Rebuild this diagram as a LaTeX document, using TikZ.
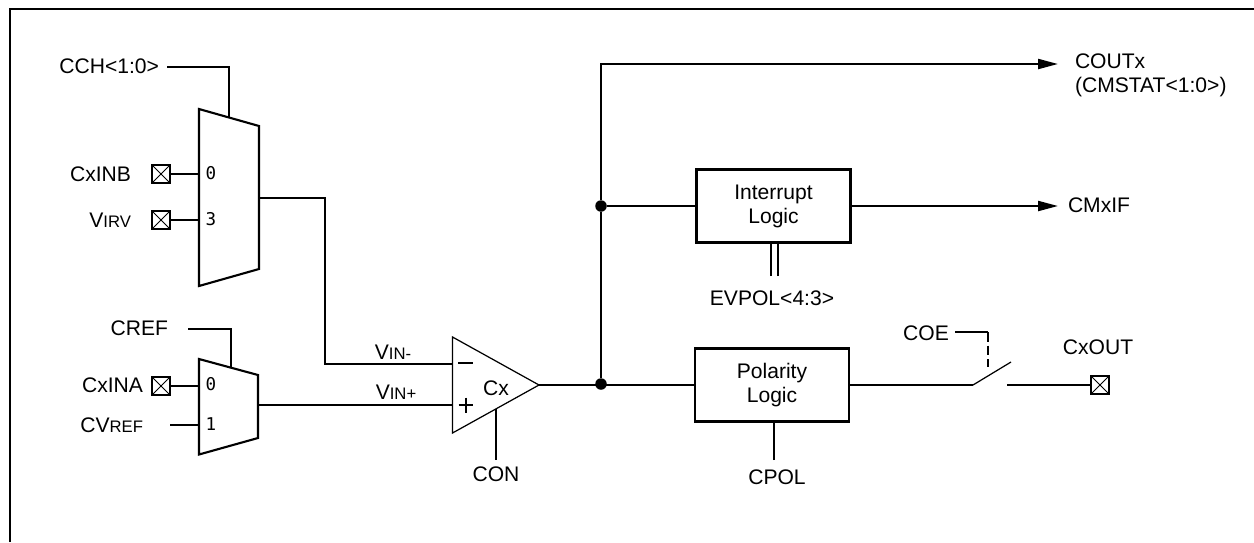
\documentclass[tikz,border=0pt]{standalone}
\usepackage{fontspec}
\setmainfont{Liberation Sans}
\setmonofont{DejaVu Sans Mono}
\usetikzlibrary{arrows.meta,positioning}

\newcommand{\smc}[1]{{\fontsize{9.5}{11}\selectfont #1}}

\begin{document}
\begin{tikzpicture}[x=0.02cm, y=-0.02cm,
  wire/.style={line width=1.2pt, black},
  thinw/.style={line width=0.7pt, black},
  arr/.style={wire, -{Triangle[length=4mm, width=2mm]}},
  lbl/.style={inner sep=0pt, outer sep=0pt, align=left,
    font=\fontsize{12}{13.6}\selectfont},
  port/.style={inner sep=0pt, outer sep=0pt, font=\ttfamily},
  logic/.style={draw, line width=1.2pt, inner sep=0pt, align=center,
    minimum width=3.08cm, minimum height=1.46cm,
    font=\fontsize{12}{13.6}\selectfont},
  pin/.style={draw, line width=1.2pt, inner sep=0pt, minimum size=0.36cm,
    path picture={\draw[line width=0.5pt]
      (path picture bounding box.south west) -- (path picture bounding box.north east)
      (path picture bounding box.north west) -- (path picture bounding box.south east);}},
  dot/.style={circle, fill=black, inner sep=0pt, minimum size=0.23cm}]
\useasboundingbox (0,0) rectangle (1254,542);
% Frame
\draw[wire] (10,542) -- (10,9) -- (1254,9);
% Upper mux
\draw[wire] (199,109) -- (259,126) -- (259,269) -- (199,286) -- cycle;
\coordinate (mxasel) at (229,118);
\coordinate (mxaout) at (259,198);
\coordinate (mxaa) at (199,174);
\coordinate (mxab) at (199,220);
\node[port] (mxazero) at (211,173) {0};
\node[port] (mxathree) at (211,219.5) {3};
\node[lbl, anchor=east] (cch) at (159,66) {CCH<1:0>};
\coordinate (cchend) at (167,67);
\draw[wire] (cchend) -| (mxasel);
\node[pin] (inb) at (161,174) {};
\node[lbl, anchor=east] (inblbl) at (131,174) {CxINB};
\draw[wire] (inb) -- (mxaa);
\node[pin] (irv) at (161,220) {};
\node[lbl, anchor=east] (irvlbl) at (131,220) {V\smc{IRV}};
\draw[wire] (irv) -- (mxab);
% Lower mux
\draw[wire] (199,359) -- (258,375) -- (258,438) -- (199,454.5) -- cycle;
\coordinate (mxbsel) at (231,368);
\coordinate (mxbout) at (258,405);
\coordinate (mxba) at (199,386);
\coordinate (mxbb) at (199,425);
\node[port] (mxbzero) at (211,384.5) {0};
\node[port] (mxbone) at (211,424) {1};
\node[lbl, anchor=east] (cref) at (168,328) {CREF};
\coordinate (crefend) at (188,329);
\draw[wire] (crefend) -| (mxbsel);
\node[pin] (ina) at (161,386) {};
\node[lbl, anchor=east] (inalbl) at (143,385) {CxINA};
\draw[wire] (ina) -- (mxba);
\node[lbl, anchor=east] (cvref) at (143,425) {CV\smc{REF}};
\coordinate (cvrefend) at (170,425);
\draw[wire] (cvrefend) -- (mxbb);
% Comparator
\draw[thinw] (452.5,337) -- (539,385) -- (452.5,433) -- cycle;
\coordinate (cmpm) at (452.5,364);
\coordinate (cmpp) at (452.5,405);
\coordinate (cmpo) at (539,385);
\coordinate (cmpc) at (496,409);
\coordinate (mxajog) at (325,280);
\draw[wire] (mxaout) -| (mxajog) |- (cmpm);
\draw[wire] (mxbout) -- (cmpp);
\node[lbl] (vinm) at (393,352) {V\smc{IN-}};
\node[lbl] (vinp) at (396,392) {V\smc{IN+}};
\draw[wire] (458,363) -- (473,363);
\draw[wire] (458.5,405) -- (473,405) (466,397.5) -- (466,412.5);
\node[lbl] (cx) at (496,388) {Cx};
\node[lbl] (con) at (496,474) {CON};
\coordinate (conend) at (496,460);
\draw[wire] (cmpc) -- (conend);
% Logic blocks
\node[logic] (intlog) at (773.5,206) {Interrupt\\Logic};
\node[logic] (pollog) at (772,385) {Polarity\\Logic};
\node[dot] (dota) at (601,206) {};
\node[dot] (dotb) at (601,384) {};
\draw[wire] (cmpo) -- (pollog.west |- cmpo);
\draw[wire] (dotb) -- (dota);
\draw[wire] (dota) -- (intlog.west |- dota);
% EVPOL and CPOL
\node[lbl] (evpol) at (772,298) {EVPOL<4:3>};
\coordinate (evpa) at (771,276);
\coordinate (evpb) at (778,276);
\draw[wire] (evpa) -- (evpa |- intlog.south);
\draw[wire] (evpb) -- (evpb |- intlog.south);
\node[lbl] (cpol) at (777,477) {CPOL};
\coordinate (cpolend) at (774,460);
\draw[wire] (cpolend) -- (cpolend |- pollog.south);
% Outputs
\node[lbl, anchor=north west] (coutx) at (1075,54) {COUTx\\(CMSTAT<1:0>)};
\coordinate (coutend) at (1058,64);
\draw[arr] (dota) |- (coutend);
\node[lbl, anchor=west] (cmxif) at (1068,205) {CMxIF};
\coordinate (cmxend) at (1058,206);
\draw[arr] (intlog.east |- cmxend) -- (cmxend);
% Switch
\coordinate (swa) at (973,385);
\coordinate (swb) at (1011,362);
\coordinate (swc) at (1007,385);
\draw[wire] (pollog.east) -- (swa);
\draw[thinw] (swa) -- (swb);
\node[pin] (cxout) at (1100,385) {};
\node[lbl] (cxoutlbl) at (1098,347) {CxOUT};
\draw[wire] (swc) -- (cxout);
\node[lbl] (coe) at (926,333) {COE};
\coordinate (coeend) at (955,332);
\coordinate (coebend) at (988,332);
\coordinate (coesw) at (988,367);
\draw[wire] (coeend) -- (coebend);
\draw[wire, dash pattern=on 5.5pt off 2.2pt] (coebend) -- (coesw);
\end{tikzpicture}
\end{document}
